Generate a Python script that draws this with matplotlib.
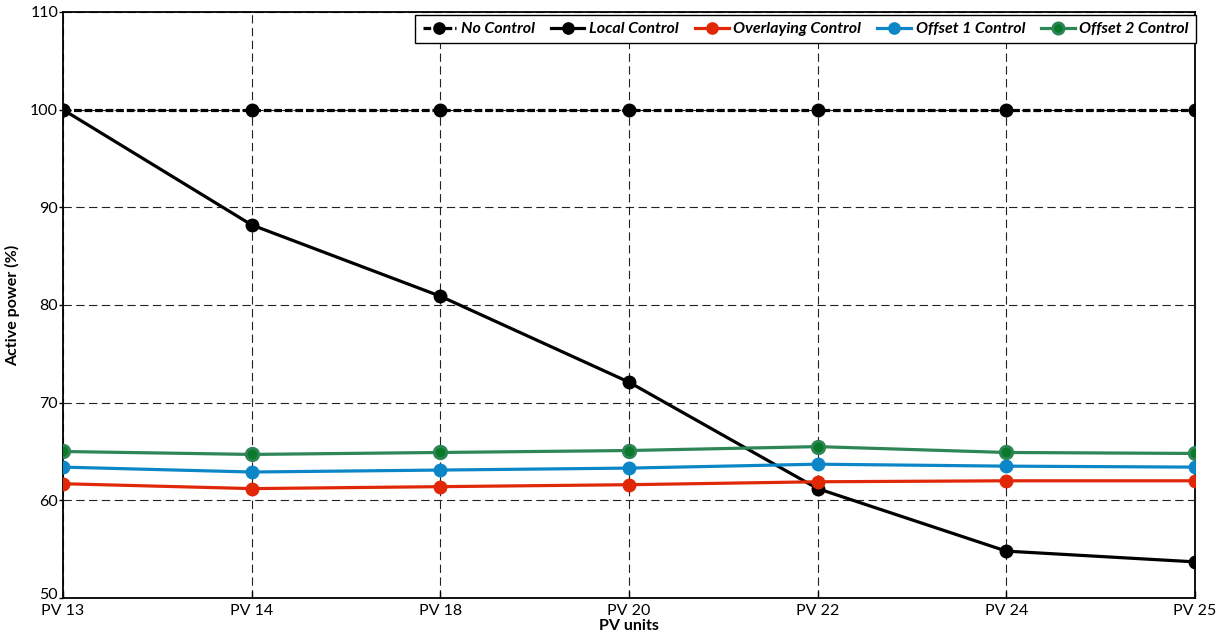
import matplotlib
matplotlib.use("Agg")
import matplotlib.pyplot as plt
from matplotlib.transforms import ScaledTranslation

categories = ["PV 13", "PV 14", "PV 18", "PV 20", "PV 22", "PV 24", "PV 25"]
no_control = [100, 100, 100, 100, 100, 100, 100]
local_control = [100.0, 88.2, 80.9, 72.1, 61.2, 54.8, 53.7]
overlaying_control = [61.7, 61.2, 61.4, 61.6, 61.9, 62.0, 62.0]
offset1_control = [63.4, 62.9, 63.1, 63.3, 63.7, 63.5, 63.4]
offset2_control = [65.0, 64.7, 64.9, 65.1, 65.5, 64.9, 64.8]
yticks = [50, 60, 70, 80, 90, 100, 110]

plt.rcParams['font.family'] = ['Lato', 'DejaVu Sans']

fig = plt.figure(figsize=(12.23, 6.38), dpi=100)
ax = fig.add_axes([0.0515, 0.0627, 0.9256, 0.9185])

x = list(range(len(categories)))
lw = 2.3
ms = 9
ax.plot(x, no_control, color="black", ls=(0, (2.4, 0.9)), lw=lw, marker="o", ms=ms,
        label="No Control", zorder=3)
ax.plot(x, local_control, color="black", lw=lw, marker="o", ms=ms,
        label="Local Control", zorder=3)
ax.plot(x, overlaying_control, color="#e02808", lw=lw, marker="o", ms=ms,
        label="Overlaying Control", zorder=4)
ax.plot(x, offset1_control, color="#0d86c8", lw=lw, marker="o", ms=ms,
        label="Offset 1 Control", zorder=4)
ax.plot(x, offset2_control, color="#2e8555", lw=lw, marker="o", ms=ms,
        markerfacecolor="#0a7a2a", markeredgecolor="#2e8555", markeredgewidth=2,
        label="Offset 2 Control", zorder=4)

ax.set_xlim(0, len(categories) - 1)
ax.set_ylim(50, 110)
ax.set_xticks(x)
ax.set_xticklabels(categories, fontsize=11.5)
ax.set_yticks(yticks)
ytl = ax.set_yticklabels([str(v) for v in yticks], fontsize=11.5)
ax.tick_params(axis="x", direction="in", length=5, width=1, pad=4)
ax.tick_params(axis="y", direction="out", length=3, width=1, pad=0.5)
ax.grid(True, color="#222222", ls=(0, (7.5, 4)), lw=0.8)

# nudge the lowest y label up slightly so it does not collide with "PV 13"
ytl[0].set_transform(ytl[0].get_transform() +
                     ScaledTranslation(0, 3 / 72, fig.dpi_scale_trans))

for s in ax.spines.values():
    s.set_linewidth(1.3)

ax.set_xlabel("PV units", fontsize=11.5, fontweight="bold", labelpad=1)
ax.set_ylabel("Active power (%)", fontsize=11.5, fontweight="bold", labelpad=7)

leg = ax.legend(loc="upper right", bbox_to_anchor=(1.001, 0.995), ncol=5,
                frameon=True, fancybox=False, edgecolor="black", framealpha=1,
                prop={"style": "italic", "weight": "bold", "size": 11.5},
                handlelength=2.1, handletextpad=0.3, columnspacing=1.0,
                borderpad=0.45, borderaxespad=0.0, markerscale=0.9)
leg.get_frame().set_linewidth(1.0)

fig.savefig("out.png", dpi=100)
